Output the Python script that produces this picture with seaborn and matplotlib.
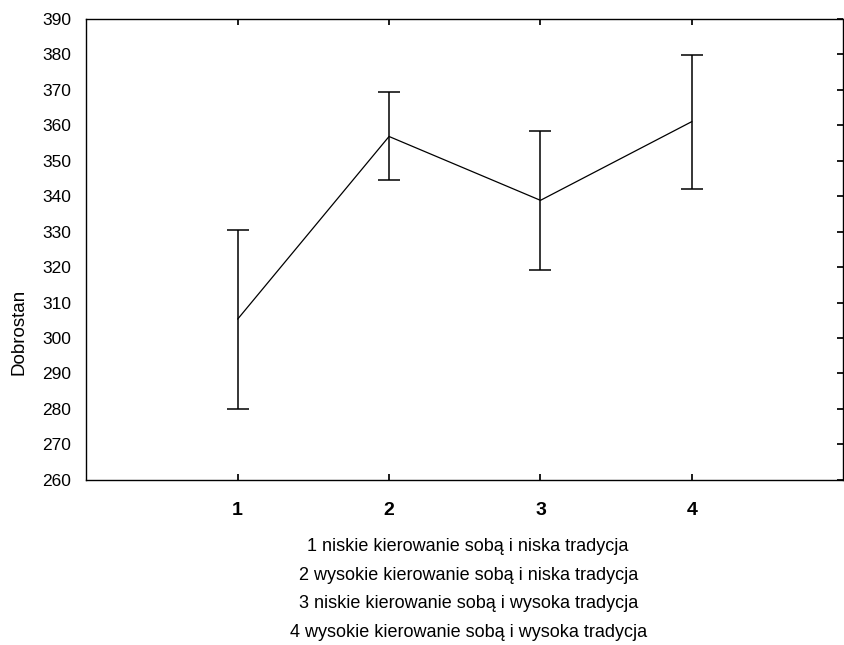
import numpy as np
import pandas as pd
import matplotlib
matplotlib.use("Agg")
import matplotlib.pyplot as plt
import seaborn as sns

# group means and error bar half-widths
groups = [1, 2, 3, 4]
means = [305.3, 356.8, 338.8, 361.0]
errors = [25.2, 12.4, 19.5, 18.9]
y_ticks = list(range(260, 391, 10))
descriptions = [
    "1 niskie kierowanie sobą i niska tradycja",
    "2 wysokie kierowanie sobą i niska tradycja",
    "3 niskie kierowanie sobą i wysoka tradycja",
    "4 wysokie kierowanie sobą i wysoka tradycja",
]

sns.set_theme(style="white", rc={'text.color': 'black', 'axes.labelcolor': 'black',
                                 'xtick.color': 'black', 'ytick.color': 'black'})
plt.rcParams['font.family'] = ['Liberation Sans', 'DejaVu Sans']

df = pd.DataFrame({'grupa': groups, 'Dobrostan': means, 'err': errors})

fig = plt.figure(figsize=(8.45, 6.45), dpi=100)
ax = fig.add_axes([0.102, 0.256, 0.896, 0.715])

sns.lineplot(data=df, x='grupa', y='Dobrostan', color='black', linewidth=0.9, ax=ax)
ax.errorbar(df['grupa'], df['Dobrostan'], yerr=df['err'], fmt='none',
            ecolor='black', elinewidth=1.1, capsize=8, capthick=1.1)

ax.set_xlim(0, 5)
ax.set_ylim(260, 390)
ax.set_yticks(y_ticks)
ax.set_xticks(groups)
ax.set_xticklabels([str(g) for g in groups], fontsize=14, fontweight='bold')
ax.set_yticklabels([str(t) for t in y_ticks], fontsize=12.5)
ax.set_xlabel('')
ax.set_ylabel('Dobrostan', fontsize=13.5)
# the label sits below the middle of the axis in the original
ax.yaxis.set_label_coords(-0.077, 0.32)

for s in ax.spines.values():
    s.set_color('black')
    s.set_linewidth(1.0)

ax.tick_params(axis='x', which='both', direction='in', top=True, bottom=True,
               length=4, color='black', pad=16)
ax.tick_params(axis='y', which='both', direction='in', left=False, right=True,
               length=4, color='black', pad=11)

fig.text(0.554, 0.086, "\n".join(descriptions), ha='center', va='center',
         fontsize=13, linespacing=1.9)

fig.savefig('out.png', dpi=100)
